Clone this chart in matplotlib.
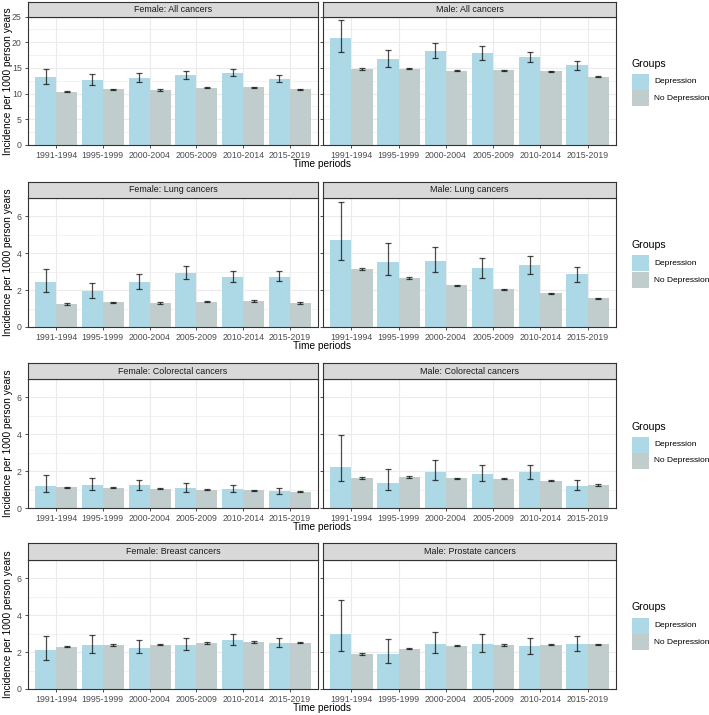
import matplotlib
matplotlib.use("Agg")
import matplotlib.pyplot as plt
from matplotlib.patches import Rectangle
import numpy as np

plt.rcParams['font.family'] = ['Liberation Sans', 'DejaVu Sans']

periods = ["1991-1994", "1995-1999", "2000-2004", "2005-2009", "2010-2014", "2015-2019"]
groups = ["Depression", "No Depression"]

# Female: All cancers
f_all_dep = [13.2, 12.7, 13.1, 13.6, 14.1, 12.8]
f_all_dep_lo = [11.9, 11.7, 12.35, 12.85, 13.45, 12.2]
f_all_dep_hi = [14.7, 13.8, 14.0, 14.4, 14.8, 13.6]
f_all_nod = [10.4, 10.85, 10.7, 11.1, 11.2, 10.8]
f_all_nod_err = [0.12, 0.1, 0.1, 0.1, 0.1, 0.1]
# Male: All cancers
m_all_dep = [20.8, 16.7, 18.3, 17.9, 17.1, 15.5]
m_all_dep_lo = [18.1, 15.1, 16.9, 16.6, 16.1, 14.6]
m_all_dep_hi = [24.4, 18.5, 19.9, 19.2, 18.1, 16.4]
m_all_nod = [14.8, 14.8, 14.4, 14.5, 14.3, 13.3]
m_all_nod_err = [0.12, 0.1, 0.1, 0.1, 0.1, 0.1]

# Female: Lung cancers
f_lung_dep = [2.43, 1.93, 2.43, 2.92, 2.74, 2.74]
f_lung_dep_lo = [1.90, 1.59, 2.08, 2.61, 2.45, 2.50]
f_lung_dep_hi = [3.14, 2.37, 2.85, 3.30, 3.05, 3.03]
f_lung_nod = [1.26, 1.33, 1.31, 1.37, 1.42, 1.31]
f_lung_nod_err = [0.04, 0.04, 0.04, 0.04, 0.04, 0.04]
# Male: Lung cancers
m_lung_dep = [4.73, 3.52, 3.58, 3.18, 3.34, 2.85]
m_lung_dep_lo = [3.61, 2.83, 2.96, 2.68, 2.90, 2.46]
m_lung_dep_hi = [6.81, 4.54, 4.32, 3.76, 3.87, 3.28]
m_lung_nod = [3.16, 2.66, 2.26, 2.04, 1.84, 1.55]
m_lung_nod_err = [0.05, 0.05, 0.04, 0.04, 0.03, 0.03]

# Female: Colorectal cancers
f_crc_dep = [1.22, 1.25, 1.24, 1.11, 1.02, 0.93]
f_crc_dep_lo = [0.87, 0.96, 1.00, 0.89, 0.85, 0.76]
f_crc_dep_hi = [1.78, 1.64, 1.53, 1.35, 1.24, 1.11]
f_crc_nod = [1.13, 1.11, 1.05, 1.00, 0.97, 0.88]
f_crc_nod_err = [0.03, 0.03, 0.03, 0.03, 0.03, 0.03]
# Male: Colorectal cancers
m_crc_dep = [2.22, 1.38, 1.98, 1.84, 1.93, 1.18]
m_crc_dep_lo = [1.49, 0.98, 1.53, 1.47, 1.60, 0.95]
m_crc_dep_hi = [3.98, 2.13, 2.58, 2.33, 2.36, 1.51]
m_crc_nod = [1.65, 1.69, 1.62, 1.58, 1.49, 1.25]
m_crc_nod_err = [0.05, 0.04, 0.03, 0.03, 0.03, 0.03]

# Female: Breast cancers
f_br_dep = [2.10, 2.37, 2.24, 2.41, 2.68, 2.52]
f_br_dep_lo = [1.59, 1.93, 1.93, 2.11, 2.41, 2.28]
f_br_dep_hi = [2.86, 2.92, 2.64, 2.75, 2.99, 2.79]
f_br_nod = [2.30, 2.39, 2.41, 2.50, 2.55, 2.52]
f_br_nod_err = [0.04, 0.04, 0.04, 0.04, 0.04, 0.04]
# Male: Prostate cancers
m_pr_dep = [2.97, 1.88, 2.46, 2.44, 2.32, 2.42]
m_pr_dep_lo = [2.08, 1.39, 1.95, 2.02, 1.90, 2.08]
m_pr_dep_hi = [4.85, 2.74, 3.10, 2.99, 2.77, 2.86]
m_pr_nod = [1.88, 2.19, 2.35, 2.39, 2.41, 2.42]
m_pr_nod_err = [0.05, 0.04, 0.04, 0.04, 0.04, 0.04]

rows = [
    ("Female: All cancers", (f_all_dep, f_all_dep_lo, f_all_dep_hi, f_all_nod, f_all_nod_err),
     "Male: All cancers", (m_all_dep, m_all_dep_lo, m_all_dep_hi, m_all_nod, m_all_nod_err),
     25, [0, 5, 10, 15, 20, 25], [2.5, 7.5, 12.5, 17.5, 22.5]),
    ("Female: Lung cancers", (f_lung_dep, f_lung_dep_lo, f_lung_dep_hi, f_lung_nod, f_lung_nod_err),
     "Male: Lung cancers", (m_lung_dep, m_lung_dep_lo, m_lung_dep_hi, m_lung_nod, m_lung_nod_err),
     7, [0, 2, 4, 6], [1, 3, 5]),
    ("Female: Colorectal cancers", (f_crc_dep, f_crc_dep_lo, f_crc_dep_hi, f_crc_nod, f_crc_nod_err),
     "Male: Colorectal cancers", (m_crc_dep, m_crc_dep_lo, m_crc_dep_hi, m_crc_nod, m_crc_nod_err),
     7, [0, 2, 4, 6], [1, 3, 5]),
    ("Female: Breast cancers", (f_br_dep, f_br_dep_lo, f_br_dep_hi, f_br_nod, f_br_nod_err),
     "Male: Prostate cancers", (m_pr_dep, m_pr_dep_lo, m_pr_dep_hi, m_pr_nod, m_pr_nod_err),
     7, [0, 2, 4, 6], [1, 3, 5]),
]

W, H = 709, 715
fig = plt.figure(figsize=(W / 100, H / 100), dpi=100)

def fx(x):
    return x / W

def fy(y):
    return 1 - y / H

dep_col = "#ADD8E6"
nod_col = "#C1CDCD"
border = "#333333"

# pixel layout: (strip_top, panel_top, panel_bottom)
row_px = [(1.5, 16.5, 145), (182, 198, 327), (363, 379, 508), (543, 560, 689)]
col_px = [(28, 318), (323, 616)]

x = np.arange(len(periods)) + 1
bw = 0.45

def draw_panel(ax, data, ymax, yticks, minor, show_y):
    dep, lo, hi, nod, nerr = data
    ax.set_xlim(0.4, len(periods) + 0.6)
    ax.set_ylim(0, ymax)
    for m in minor:
        ax.axhline(m, color="#EBEBEB", lw=0.45, zorder=0)
    for t in yticks:
        ax.axhline(t, color="#EBEBEB", lw=0.8, zorder=0)
    for xi in x:
        ax.axvline(xi, color="#EBEBEB", lw=0.8, zorder=0)
    ax.bar(x - bw / 2, dep, width=bw, color=dep_col, zorder=2)
    ax.bar(x + bw / 2, nod, width=bw, color=nod_col, zorder=2)
    dep = np.array(dep)
    nod = np.array(nod)
    ax.errorbar(x - bw / 2, dep, yerr=[dep - np.array(lo), np.array(hi) - dep], fmt="none",
                ecolor="black", alpha=0.7, elinewidth=0.9, capsize=2.4, capthick=0.9, zorder=3)
    ax.errorbar(x + bw / 2, nod, yerr=np.array(nerr), fmt="none",
                ecolor="black", alpha=0.7, elinewidth=0.9, capsize=2.4, capthick=0.9, zorder=3)
    ax.set_xticks(x)
    ax.set_xticklabels(periods, fontsize=6.3, color="#4D4D4D")
    ax.set_yticks(yticks)
    if show_y:
        ax.set_yticklabels([str(t) for t in yticks], fontsize=6.3, color="#4D4D4D")
    else:
        ax.set_yticklabels([])
    ax.tick_params(axis="both", length=2.5, width=0.6, color="#333333", pad=2)
    for s in ax.spines.values():
        s.set_color(border)
        s.set_linewidth(0.8)
        s.set_zorder(4)

for (ltitle, ldata, rtitle, rdata, ymax, yticks, minor), (st, pt, pb) in zip(rows, row_px):
    for ci, ((x0, x1), title, data) in enumerate(zip(col_px, [ltitle, rtitle], [ldata, rdata])):
        ax = fig.add_axes([fx(x0), fy(pb), (x1 - x0) / W, (pb - pt) / H])
        draw_panel(ax, data, ymax, yticks, minor, ci == 0)
        sax = fig.add_axes([fx(x0), fy(pt), (x1 - x0) / W, (pt - st) / H])
        sax.set_xticks([])
        sax.set_yticks([])
        sax.set_facecolor("#D9D9D9")
        for s in sax.spines.values():
            s.set_color(border)
            s.set_linewidth(0.8)
        sax.text(0.5, 0.5, title, ha="center", va="center", fontsize=6.4, color="#1A1A1A",
                 transform=sax.transAxes)
    # axis titles
    fig.text(fx((col_px[0][0] + col_px[1][1]) / 2), fy(pb + 19), "Time periods",
             ha="center", va="center", fontsize=7.3)
    fig.text(fx(8), fy((pt + pb) / 2), "Incidence per 1000 person years", rotation=90,
             ha="center", va="center", fontsize=7.3)
    # legend
    cy = (pt + pb) / 2
    fig.text(fx(632), fy(cy - 17), "Groups", ha="left", va="center", fontsize=7.6)
    for k, (g, c) in enumerate(zip(groups, [dep_col, nod_col])):
        ky = cy - 7 + k * 16.5
        fig.patches.append(Rectangle((fx(632), fy(ky + 16)), 16.5 / W, 16 / H,
                                     transform=fig.transFigure, facecolor=c, edgecolor="none"))
        fig.text(fx(654), fy(ky + 8), g, ha="left", va="center", fontsize=6.0)

fig.savefig("out.png", dpi=100)
